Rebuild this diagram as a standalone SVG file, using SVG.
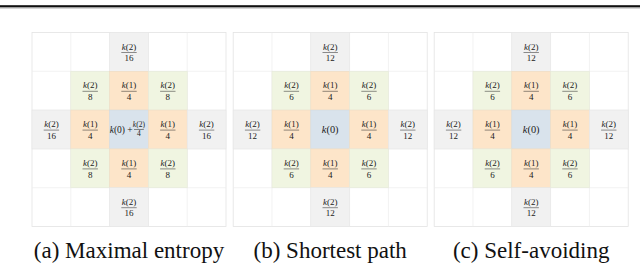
<svg xmlns="http://www.w3.org/2000/svg" width="640" height="264" viewBox="0 0 640 264">
<style>
.bg{fill:#ffffff;stroke:#e3e3e3;stroke-width:0.8}
.gl{stroke:#ececec;stroke-width:0.7}
.gray{fill:#f1f1f1;stroke:#e6e6e6;stroke-width:0.6}
.green{fill:#f0f5e1;stroke:#e6e9da;stroke-width:0.6}
.orange{fill:#fde5c9;stroke:#efdcc4;stroke-width:0.6}
.blue{fill:#d9e3ec;stroke:#d2dbe3;stroke-width:0.6}
.n{font-family:"Liberation Serif","Times New Roman",serif;font-size:9px;fill:#222;text-anchor:middle}
.s{font-family:"Liberation Serif","Times New Roman",serif;font-size:7.5px;fill:#222;text-anchor:middle}
.m{font-family:"Liberation Serif","Times New Roman",serif;font-size:9.5px;fill:#222}
.c{font-family:"Liberation Serif","Times New Roman",serif;font-size:10.4px;fill:#222;text-anchor:middle}
.i{font-style:italic}
.fl{stroke:#222;stroke-width:0.5}
.cap{font-family:"Liberation Serif","Times New Roman",serif;font-size:23px;fill:#111;text-anchor:middle}
</style>
<defs>
<g id="f16"><text class="n" y="-2.4"><tspan class="i">k</tspan>(2)</text><line class="fl" x1="-7.7" x2="7.7" y1="0.6" y2="0.6"/><text class="n" y="9.3">16</text></g>
<g id="f12"><text class="n" y="-2.4"><tspan class="i">k</tspan>(2)</text><line class="fl" x1="-7.7" x2="7.7" y1="0.6" y2="0.6"/><text class="n" y="9.3">12</text></g>
<g id="f8"><text class="n" y="-2.4"><tspan class="i">k</tspan>(2)</text><line class="fl" x1="-7.7" x2="7.7" y1="0.6" y2="0.6"/><text class="n" y="9.3">8</text></g>
<g id="f6"><text class="n" y="-2.4"><tspan class="i">k</tspan>(2)</text><line class="fl" x1="-7.7" x2="7.7" y1="0.6" y2="0.6"/><text class="n" y="9.3">6</text></g>
<g id="f4"><text class="n" y="-2.4"><tspan class="i">k</tspan>(1)</text><line class="fl" x1="-7.7" x2="7.7" y1="0.6" y2="0.6"/><text class="n" y="9.3">4</text></g>
</defs>

<!-- header rule -->
<g id="header">
<rect x="0" y="5.2" width="640" height="2.2" fill="#111"/>
<rect x="0" y="8.2" width="640" height="0.6" fill="#bbb"/>
</g>

<!-- ===== Grid (a) ===== -->
<g id="grid-a">
<rect class="bg" x="32" y="32.5" width="194" height="194"/>
<g class="gl">
<line x1="70.8" y1="32.5" x2="70.8" y2="226.5"/><line x1="109.6" y1="32.5" x2="109.6" y2="226.5"/>
<line x1="148.4" y1="32.5" x2="148.4" y2="226.5"/><line x1="187.2" y1="32.5" x2="187.2" y2="226.5"/>
<line x1="32" y1="71.3" x2="226" y2="71.3"/><line x1="32" y1="110.1" x2="226" y2="110.1"/>
<line x1="32" y1="148.9" x2="226" y2="148.9"/><line x1="32" y1="187.7" x2="226" y2="187.7"/>
</g>
<g id="a-r0c2" transform="translate(129,51.9)"><rect class="gray" x="-19.4" y="-19.4" width="38.8" height="38.8"/><use href="#f16"/></g>
<g id="a-r1c1" transform="translate(90.2,90.7)"><rect class="green" x="-19.4" y="-19.4" width="38.8" height="38.8"/><use href="#f8"/></g>
<g id="a-r1c2" transform="translate(129,90.7)"><rect class="orange" x="-19.4" y="-19.4" width="38.8" height="38.8"/><use href="#f4"/></g>
<g id="a-r1c3" transform="translate(167.8,90.7)"><rect class="green" x="-19.4" y="-19.4" width="38.8" height="38.8"/><use href="#f8"/></g>
<g id="a-r2c0" transform="translate(51.4,129.5)"><rect class="gray" x="-19.4" y="-19.4" width="38.8" height="38.8"/><use href="#f16"/></g>
<g id="a-r2c1" transform="translate(90.2,129.5)"><rect class="orange" x="-19.4" y="-19.4" width="38.8" height="38.8"/><use href="#f4"/></g>
<g id="a-r2c2" transform="translate(129,129.5)"><rect class="blue" x="-19.4" y="-19.4" width="38.8" height="38.8"/>
<text class="m" x="-19.3" y="3"><tspan class="i">k</tspan>(0) +</text>
<text class="s" x="9.9" y="-2.2"><tspan class="i">k</tspan>(2)</text><line class="fl" x1="5" x2="14.8" y1="0" y2="0"/><text class="s" x="9.9" y="6.9">4</text></g>
<g id="a-r2c3" transform="translate(167.8,129.5)"><rect class="orange" x="-19.4" y="-19.4" width="38.8" height="38.8"/><use href="#f4"/></g>
<g id="a-r2c4" transform="translate(206.6,129.5)"><rect class="gray" x="-19.4" y="-19.4" width="38.8" height="38.8"/><use href="#f16"/></g>
<g id="a-r3c1" transform="translate(90.2,168.3)"><rect class="green" x="-19.4" y="-19.4" width="38.8" height="38.8"/><use href="#f8"/></g>
<g id="a-r3c2" transform="translate(129,168.3)"><rect class="orange" x="-19.4" y="-19.4" width="38.8" height="38.8"/><use href="#f4"/></g>
<g id="a-r3c3" transform="translate(167.8,168.3)"><rect class="green" x="-19.4" y="-19.4" width="38.8" height="38.8"/><use href="#f8"/></g>
<g id="a-r4c2" transform="translate(129,207.1)"><rect class="gray" x="-19.4" y="-19.4" width="38.8" height="38.8"/><use href="#f16"/></g>
<text id="cap-a" class="cap" x="129" y="258">(a) Maximal entropy</text>
</g>

<!-- ===== Grid (b) ===== -->
<g id="grid-b">
<rect class="bg" x="233.2" y="32.5" width="194" height="194"/>
<g class="gl">
<line x1="272" y1="32.5" x2="272" y2="226.5"/><line x1="310.8" y1="32.5" x2="310.8" y2="226.5"/>
<line x1="349.6" y1="32.5" x2="349.6" y2="226.5"/><line x1="388.4" y1="32.5" x2="388.4" y2="226.5"/>
<line x1="233.2" y1="71.3" x2="427.2" y2="71.3"/><line x1="233.2" y1="110.1" x2="427.2" y2="110.1"/>
<line x1="233.2" y1="148.9" x2="427.2" y2="148.9"/><line x1="233.2" y1="187.7" x2="427.2" y2="187.7"/>
</g>
<g id="b-r0c2" transform="translate(330.2,51.9)"><rect class="gray" x="-19.4" y="-19.4" width="38.8" height="38.8"/><use href="#f12"/></g>
<g id="b-r1c1" transform="translate(291.4,90.7)"><rect class="green" x="-19.4" y="-19.4" width="38.8" height="38.8"/><use href="#f6"/></g>
<g id="b-r1c2" transform="translate(330.2,90.7)"><rect class="orange" x="-19.4" y="-19.4" width="38.8" height="38.8"/><use href="#f4"/></g>
<g id="b-r1c3" transform="translate(369,90.7)"><rect class="green" x="-19.4" y="-19.4" width="38.8" height="38.8"/><use href="#f6"/></g>
<g id="b-r2c0" transform="translate(252.6,129.5)"><rect class="gray" x="-19.4" y="-19.4" width="38.8" height="38.8"/><use href="#f12"/></g>
<g id="b-r2c1" transform="translate(291.4,129.5)"><rect class="orange" x="-19.4" y="-19.4" width="38.8" height="38.8"/><use href="#f4"/></g>
<g id="b-r2c2" transform="translate(330.2,129.5)"><rect class="blue" x="-19.4" y="-19.4" width="38.8" height="38.8"/><text class="c" y="3.5"><tspan class="i">k</tspan>(0)</text></g>
<g id="b-r2c3" transform="translate(369,129.5)"><rect class="orange" x="-19.4" y="-19.4" width="38.8" height="38.8"/><use href="#f4"/></g>
<g id="b-r2c4" transform="translate(407.8,129.5)"><rect class="gray" x="-19.4" y="-19.4" width="38.8" height="38.8"/><use href="#f12"/></g>
<g id="b-r3c1" transform="translate(291.4,168.3)"><rect class="green" x="-19.4" y="-19.4" width="38.8" height="38.8"/><use href="#f6"/></g>
<g id="b-r3c2" transform="translate(330.2,168.3)"><rect class="orange" x="-19.4" y="-19.4" width="38.8" height="38.8"/><use href="#f4"/></g>
<g id="b-r3c3" transform="translate(369,168.3)"><rect class="green" x="-19.4" y="-19.4" width="38.8" height="38.8"/><use href="#f6"/></g>
<g id="b-r4c2" transform="translate(330.2,207.1)"><rect class="gray" x="-19.4" y="-19.4" width="38.8" height="38.8"/><use href="#f12"/></g>
<text id="cap-b" class="cap" x="330.2" y="258">(b) Shortest path</text>
</g>

<!-- ===== Grid (c) ===== -->
<g id="grid-c">
<rect class="bg" x="434.2" y="32.5" width="194" height="194"/>
<g class="gl">
<line x1="473" y1="32.5" x2="473" y2="226.5"/><line x1="511.8" y1="32.5" x2="511.8" y2="226.5"/>
<line x1="550.6" y1="32.5" x2="550.6" y2="226.5"/><line x1="589.4" y1="32.5" x2="589.4" y2="226.5"/>
<line x1="434.2" y1="71.3" x2="628.2" y2="71.3"/><line x1="434.2" y1="110.1" x2="628.2" y2="110.1"/>
<line x1="434.2" y1="148.9" x2="628.2" y2="148.9"/><line x1="434.2" y1="187.7" x2="628.2" y2="187.7"/>
</g>
<g id="c-r0c2" transform="translate(531.2,51.9)"><rect class="gray" x="-19.4" y="-19.4" width="38.8" height="38.8"/><use href="#f12"/></g>
<g id="c-r1c1" transform="translate(492.4,90.7)"><rect class="green" x="-19.4" y="-19.4" width="38.8" height="38.8"/><use href="#f6"/></g>
<g id="c-r1c2" transform="translate(531.2,90.7)"><rect class="orange" x="-19.4" y="-19.4" width="38.8" height="38.8"/><use href="#f4"/></g>
<g id="c-r1c3" transform="translate(570,90.7)"><rect class="green" x="-19.4" y="-19.4" width="38.8" height="38.8"/><use href="#f6"/></g>
<g id="c-r2c0" transform="translate(453.6,129.5)"><rect class="gray" x="-19.4" y="-19.4" width="38.8" height="38.8"/><use href="#f12"/></g>
<g id="c-r2c1" transform="translate(492.4,129.5)"><rect class="orange" x="-19.4" y="-19.4" width="38.8" height="38.8"/><use href="#f4"/></g>
<g id="c-r2c2" transform="translate(531.2,129.5)"><rect class="blue" x="-19.4" y="-19.4" width="38.8" height="38.8"/><text class="c" y="3.5"><tspan class="i">k</tspan>(0)</text></g>
<g id="c-r2c3" transform="translate(570,129.5)"><rect class="orange" x="-19.4" y="-19.4" width="38.8" height="38.8"/><use href="#f4"/></g>
<g id="c-r2c4" transform="translate(608.8,129.5)"><rect class="gray" x="-19.4" y="-19.4" width="38.8" height="38.8"/><use href="#f12"/></g>
<g id="c-r3c1" transform="translate(492.4,168.3)"><rect class="green" x="-19.4" y="-19.4" width="38.8" height="38.8"/><use href="#f6"/></g>
<g id="c-r3c2" transform="translate(531.2,168.3)"><rect class="orange" x="-19.4" y="-19.4" width="38.8" height="38.8"/><use href="#f4"/></g>
<g id="c-r3c3" transform="translate(570,168.3)"><rect class="green" x="-19.4" y="-19.4" width="38.8" height="38.8"/><use href="#f6"/></g>
<g id="c-r4c2" transform="translate(531.2,207.1)"><rect class="gray" x="-19.4" y="-19.4" width="38.8" height="38.8"/><use href="#f12"/></g>
<text id="cap-c" class="cap" x="531.2" y="258">(c) Self-avoiding</text>
</g>

<g id="connectors"/>
</svg>
